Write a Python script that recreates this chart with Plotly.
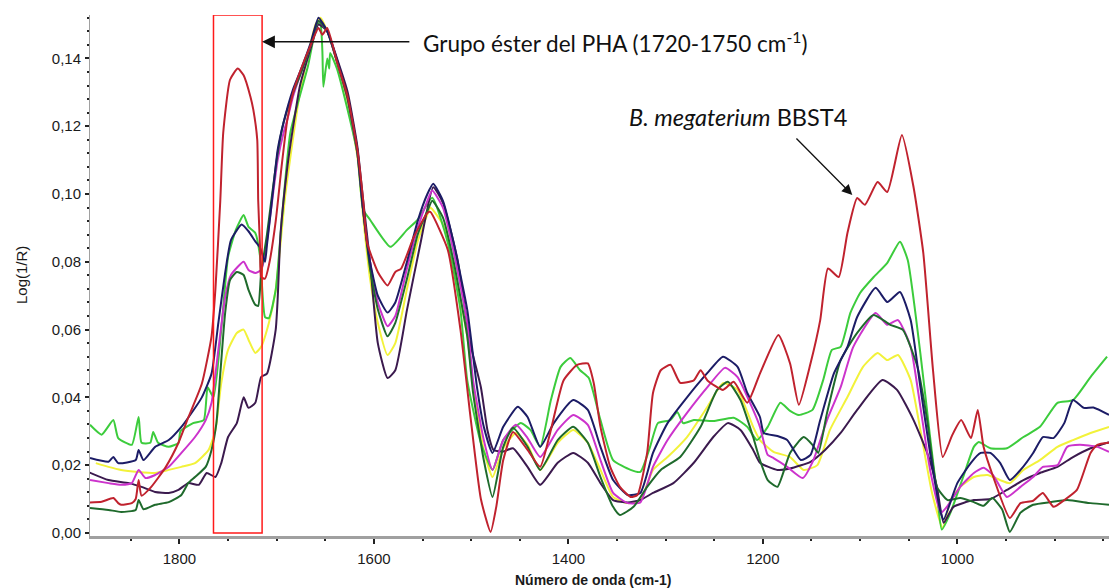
import plotly.graph_objects as go

# FTIR reflectance spectra, Log(1/R) versus wavenumber (cm-1)

red_w = [1892, 1880, 1868, 1863, 1860, 1849, 1845, 1842, 1839, 1829, 1814, 1801, 1791, 1777, 1767,
         1763, 1758, 1755, 1748, 1740, 1734, 1727, 1724, 1720, 1719, 1717, 1716, 1712, 1708, 1701,
         1695, 1689, 1683, 1676, 1665, 1657, 1653, 1648, 1638, 1627, 1617, 1611, 1607, 1596, 1586,
         1578, 1572, 1559, 1545, 1542, 1524, 1511, 1501, 1490, 1480, 1474, 1467, 1457, 1442, 1429,
         1418, 1405, 1391, 1380, 1374, 1367, 1357, 1347, 1336, 1329, 1319, 1313, 1305, 1295, 1285,
         1271, 1264, 1257, 1241, 1230, 1216, 1203, 1184, 1172, 1163, 1151, 1141, 1133, 1122, 1113,
         1103, 1095, 1082, 1072, 1057, 1045, 1035, 1025, 1015, 1005, 996, 986, 979, 973, 963,
         946, 935, 922, 912, 901, 890, 877, 863, 856, 844]
red_v = [0.0090, 0.0092, 0.0103, 0.0088, 0.0083, 0.0088, 0.0100, 0.0156, 0.0110, 0.0136, 0.0195, 0.0266, 0.0340, 0.0440, 0.0580,
         0.0720, 0.0980, 0.1180, 0.1337, 0.1370, 0.1350, 0.1287, 0.1248, 0.1160, 0.0980, 0.0835, 0.0755, 0.0750, 0.0790, 0.0920,
         0.1080, 0.1220, 0.1300, 0.1360, 0.1440, 0.1490, 0.1470, 0.1490, 0.1390, 0.1287, 0.1130, 0.0980, 0.0856, 0.0770, 0.0730,
         0.0770, 0.0780, 0.0873, 0.0944, 0.0947, 0.0835, 0.0600, 0.0350, 0.0100, 0.0003, 0.0080, 0.0215, 0.0298, 0.0245, 0.0195,
         0.0304, 0.0450, 0.0496, 0.0500, 0.0443, 0.0313, 0.0195, 0.0136, 0.0106, 0.0112, 0.0236, 0.0413, 0.0480, 0.0496, 0.0443,
         0.0450, 0.0480, 0.0450, 0.0422, 0.0446, 0.0384, 0.0470, 0.0584, 0.0500, 0.0378, 0.0500, 0.0628, 0.0780, 0.0755, 0.0885,
         0.0988, 0.0968, 0.1035, 0.1006, 0.1174, 0.1020, 0.0826, 0.0480, 0.0224, 0.0290, 0.0333, 0.0280, 0.0363, 0.0254, 0.0165,
         0.0044, 0.0088, 0.0095, 0.0118, 0.0077, 0.0097, 0.0127, 0.0236, 0.0260, 0.0266]

lime_w = [1892, 1880, 1868, 1863, 1849, 1842, 1839, 1830, 1827, 1822, 1811, 1801, 1799, 1786, 1775,
          1771, 1765, 1757, 1750, 1742, 1734, 1729, 1722, 1717, 1712, 1708, 1701, 1695, 1686, 1668,
          1658, 1655, 1653, 1652, 1648, 1646, 1645, 1638, 1627, 1617, 1611, 1604, 1583, 1566, 1555,
          1540, 1524, 1511, 1504, 1490, 1478, 1467, 1449, 1439, 1429, 1418, 1408, 1398, 1388, 1379,
          1367, 1354, 1336, 1326, 1316, 1308, 1295, 1288, 1282, 1271, 1251, 1230, 1216, 1206, 1195,
          1182, 1172, 1163, 1149, 1138, 1129, 1120, 1110, 1100, 1086, 1072, 1059, 1051, 1038, 1028,
          1021, 1016, 1007, 994, 983, 978, 966, 949, 932, 915, 897, 881, 863, 846]
lime_v = [0.0319, 0.0290, 0.0333, 0.0280, 0.0260, 0.0342, 0.0266, 0.0266, 0.0298, 0.0266, 0.0254, 0.0266, 0.0300, 0.0324, 0.0333,
          0.0430, 0.0400, 0.0600, 0.0814, 0.0894, 0.0938, 0.0903, 0.0885, 0.0814, 0.0637, 0.0634, 0.0717, 0.0915, 0.1180, 0.1375,
          0.1504, 0.1500, 0.1420, 0.1316, 0.1400, 0.1370, 0.1416, 0.1370, 0.1248, 0.1120, 0.0953, 0.0924, 0.0844, 0.0894, 0.0924,
          0.0989, 0.0856, 0.0658, 0.0450, 0.0266, 0.0186, 0.0274, 0.0324, 0.0304, 0.0254, 0.0392, 0.0490, 0.0516, 0.0480, 0.0457,
          0.0333, 0.0215, 0.0186, 0.0180, 0.0254, 0.0324, 0.0333, 0.0357, 0.0324, 0.0333, 0.0330, 0.0340, 0.0313, 0.0274, 0.0313,
          0.0384, 0.0360, 0.0348, 0.0363, 0.0451, 0.0540, 0.0549, 0.0649, 0.0708, 0.0755, 0.0797, 0.0859, 0.0805, 0.0530, 0.0283,
          0.0118, 0.0010, 0.0060, 0.0165, 0.0254, 0.0268, 0.0250, 0.0250, 0.0283, 0.0313, 0.0384, 0.0392, 0.0460, 0.0520]

navy_w = [1892, 1873, 1868, 1863, 1845, 1842, 1837, 1825, 1811, 1798, 1791, 1777, 1767, 1760, 1753,
          1747, 1736, 1729, 1722, 1717, 1712, 1710, 1706, 1699, 1693, 1683, 1676, 1665, 1657, 1648,
          1638, 1627, 1617, 1611, 1604, 1596, 1586, 1578, 1566, 1555, 1545, 1539, 1529, 1518, 1504,
          1494, 1487, 1478, 1467, 1452, 1442, 1429, 1415, 1395, 1380, 1367, 1354, 1339, 1326, 1313,
          1298, 1278, 1257, 1241, 1226, 1216, 1203, 1199, 1185, 1175, 1161, 1151, 1141, 1127, 1113,
          1103, 1084, 1072, 1059, 1048, 1038, 1028, 1017, 1014, 1000, 986, 976, 966, 956, 946,
          935, 922, 912, 901, 890, 881, 870, 860, 844]
navy_v = [0.0221, 0.0210, 0.0224, 0.0206, 0.0215, 0.0245, 0.0215, 0.0254, 0.0274, 0.0313, 0.0340, 0.0400, 0.0470, 0.0620, 0.0767,
          0.0864, 0.0910, 0.0890, 0.0860, 0.0841, 0.0800, 0.0850, 0.0950, 0.1130, 0.1210, 0.1310, 0.1360, 0.1446, 0.1520, 0.1480,
          0.1396, 0.1287, 0.1130, 0.0950, 0.0800, 0.0700, 0.0650, 0.0680, 0.0800, 0.0920, 0.1000, 0.1030, 0.0980, 0.0856, 0.0658,
          0.0430, 0.0313, 0.0236, 0.0313, 0.0372, 0.0342, 0.0254, 0.0324, 0.0392, 0.0363, 0.0254, 0.0156, 0.0112, 0.0118, 0.0236,
          0.0324, 0.0400, 0.0472, 0.0520, 0.0490, 0.0413, 0.0342, 0.0295, 0.0286, 0.0274, 0.0215, 0.0230, 0.0333, 0.0470, 0.0549,
          0.0637, 0.0723, 0.0681, 0.0711, 0.0628, 0.0430, 0.0236, 0.0059, 0.0040, 0.0147, 0.0207, 0.0236, 0.0236, 0.0207, 0.0156,
          0.0186, 0.0236, 0.0283, 0.0280, 0.0324, 0.0392, 0.0369, 0.0370, 0.0348]

dkgreen_w = [1892, 1873, 1860, 1845, 1842, 1837, 1825, 1811, 1798, 1791, 1784, 1773, 1767, 1762, 1758,
             1753, 1748, 1741, 1734, 1729, 1722, 1719, 1716, 1710, 1706, 1699, 1693, 1683, 1676, 1665,
             1657, 1648, 1638, 1627, 1617, 1611, 1604, 1596, 1586, 1578, 1566, 1555, 1545, 1540, 1529,
             1518, 1504, 1498, 1487, 1478, 1467, 1457, 1442, 1429, 1411, 1395, 1380, 1367, 1354, 1347,
             1333, 1319, 1305, 1285, 1264, 1247, 1236, 1223, 1210, 1203, 1195, 1185, 1172, 1158, 1149,
             1143, 1134, 1120, 1103, 1086, 1069, 1056, 1041, 1031, 1021, 1010, 997, 983, 973, 964,
             954, 946, 935, 922, 904, 887, 863, 844]
dkgreen_v = [0.0074, 0.0068, 0.0062, 0.0068, 0.0097, 0.0070, 0.0083, 0.0091, 0.0112, 0.0147, 0.0165, 0.0195, 0.0245, 0.0324, 0.0470,
             0.0649, 0.0746, 0.0770, 0.0761, 0.0717, 0.0673, 0.0670, 0.0767, 0.0880, 0.0970, 0.1120, 0.1210, 0.1300, 0.1350, 0.1440,
             0.1510, 0.1480, 0.1390, 0.1280, 0.1120, 0.0950, 0.0780, 0.0660, 0.0580, 0.0620, 0.0750, 0.0880, 0.0950, 0.0980, 0.0930,
             0.0800, 0.0580, 0.0413, 0.0215, 0.0106, 0.0254, 0.0310, 0.0254, 0.0186, 0.0274, 0.0313, 0.0266, 0.0165, 0.0077, 0.0053,
             0.0077, 0.0136, 0.0186, 0.0224, 0.0313, 0.0422, 0.0446, 0.0392, 0.0283, 0.0215, 0.0156, 0.0136, 0.0236, 0.0283, 0.0260,
             0.0236, 0.0354, 0.0510, 0.0590, 0.0643, 0.0614, 0.0599, 0.0490, 0.0333, 0.0136, 0.0097, 0.0103, 0.0091, 0.0080, 0.0103,
             0.0070, 0.0003, 0.0060, 0.0083, 0.0091, 0.0097, 0.0088, 0.0083]

magenta_w = [1892, 1873, 1860, 1849, 1842, 1835, 1825, 1811, 1798, 1784, 1773, 1767, 1760, 1753, 1747,
             1734, 1729, 1722, 1716, 1712, 1706, 1699, 1693, 1689, 1683, 1676, 1665, 1657, 1648, 1638,
             1627, 1617, 1611, 1604, 1596, 1586, 1578, 1566, 1555, 1545, 1540, 1529, 1518, 1504, 1498,
             1487, 1478, 1467, 1454, 1442, 1429, 1411, 1395, 1380, 1367, 1354, 1339, 1326, 1313, 1298,
             1278, 1257, 1239, 1226, 1210, 1203, 1195, 1189, 1175, 1159, 1148, 1134, 1120, 1107, 1084,
             1072, 1061, 1048, 1038, 1028, 1017, 1010, 997, 983, 973, 963, 949, 935, 922, 912,
             897, 887, 874, 856, 844]
magenta_v = [0.0156, 0.0147, 0.0142, 0.0147, 0.0186, 0.0162, 0.0171, 0.0195, 0.0236, 0.0283, 0.0333, 0.0384, 0.0540, 0.0696, 0.0761,
             0.0800, 0.0776, 0.0767, 0.0776, 0.0820, 0.0950, 0.1100, 0.1180, 0.1220, 0.1290, 0.1350, 0.1440, 0.1510, 0.1480, 0.1390,
             0.1280, 0.1120, 0.0950, 0.0800, 0.0680, 0.0610, 0.0640, 0.0780, 0.0900, 0.0980, 0.1010, 0.0960, 0.0830, 0.0620, 0.0450,
             0.0274, 0.0186, 0.0274, 0.0319, 0.0280, 0.0224, 0.0304, 0.0348, 0.0319, 0.0215, 0.0118, 0.0088, 0.0090, 0.0195, 0.0274,
             0.0354, 0.0430, 0.0487, 0.0460, 0.0363, 0.0313, 0.0230, 0.0221, 0.0195, 0.0162, 0.0215, 0.0333, 0.0430, 0.0549, 0.0649,
             0.0614, 0.0628, 0.0549, 0.0372, 0.0186, 0.0059, 0.0080, 0.0136, 0.0177, 0.0192, 0.0170, 0.0106, 0.0136, 0.0165, 0.0195,
             0.0200, 0.0254, 0.0260, 0.0254, 0.0239]

yellow_w = [1886, 1873, 1860, 1842, 1825, 1811, 1798, 1784, 1770, 1763, 1757, 1750, 1741, 1734, 1729,
            1722, 1716, 1708, 1701, 1691, 1676, 1660, 1655, 1648, 1638, 1627, 1617, 1611, 1604, 1596,
            1586, 1578, 1566, 1555, 1545, 1542, 1529, 1518, 1504, 1498, 1487, 1478, 1467, 1454, 1442,
            1429, 1411, 1395, 1380, 1367, 1354, 1339, 1326, 1313, 1298, 1278, 1257, 1241, 1226, 1210,
            1203, 1189, 1172, 1158, 1144, 1131, 1113, 1097, 1082, 1072, 1061, 1048, 1038, 1026, 1015,
            1007, 997, 983, 969, 956, 946, 932, 915, 897, 881, 863, 844]
yellow_v = [0.0206, 0.0195, 0.0186, 0.0180, 0.0177, 0.0186, 0.0195, 0.0206, 0.0245, 0.0304, 0.0442, 0.0540, 0.0590, 0.0600, 0.0570,
            0.0531, 0.0549, 0.0620, 0.0717, 0.1000, 0.1300, 0.1500, 0.1520, 0.1480, 0.1390, 0.1270, 0.1110, 0.0930, 0.0750, 0.0620,
            0.0525, 0.0560, 0.0720, 0.0860, 0.0940, 0.0960, 0.0910, 0.0790, 0.0580, 0.0430, 0.0245, 0.0165, 0.0250, 0.0295, 0.0260,
            0.0186, 0.0266, 0.0304, 0.0266, 0.0186, 0.0106, 0.0088, 0.0097, 0.0186, 0.0224, 0.0283, 0.0372, 0.0442, 0.0422, 0.0313,
            0.0274, 0.0239, 0.0224, 0.0186, 0.0200, 0.0304, 0.0401, 0.0490, 0.0531, 0.0510, 0.0525, 0.0451, 0.0304, 0.0118, 0.0015,
            0.0097, 0.0136, 0.0165, 0.0171, 0.0156, 0.0147, 0.0186, 0.0215, 0.0254, 0.0274, 0.0295, 0.0313]

purple_w = [1894, 1873, 1852, 1839, 1825, 1811, 1801, 1791, 1780, 1772, 1763, 1757, 1750, 1741, 1734,
            1729, 1722, 1716, 1710, 1701, 1699, 1696, 1689, 1683, 1676, 1665, 1657, 1648, 1638, 1627,
            1617, 1611, 1604, 1596, 1586, 1578, 1566, 1552, 1539, 1529, 1514, 1501, 1490, 1483, 1477,
            1467, 1457, 1442, 1429, 1411, 1395, 1380, 1367, 1354, 1339, 1326, 1313, 1292, 1271, 1251,
            1236, 1223, 1210, 1203, 1185, 1172, 1151, 1136, 1120, 1103, 1077, 1062, 1045, 1031, 1021,
            1014, 1004, 983, 966, 949, 932, 915, 897, 881, 863, 844]
purple_v = [0.0180, 0.0156, 0.0147, 0.0136, 0.0121, 0.0118, 0.0127, 0.0147, 0.0142, 0.0177, 0.0165, 0.0206, 0.0283, 0.0324, 0.0400,
            0.0369, 0.0384, 0.0460, 0.0470, 0.0600, 0.0690, 0.0885, 0.1080, 0.1200, 0.1320, 0.1430, 0.1500, 0.1480, 0.1400, 0.1300,
            0.1140, 0.0980, 0.0800, 0.0560, 0.0457, 0.0480, 0.0658, 0.0856, 0.1020, 0.0974, 0.0806, 0.0560, 0.0430, 0.0300, 0.0245,
            0.0240, 0.0250, 0.0195, 0.0142, 0.0207, 0.0236, 0.0207, 0.0147, 0.0097, 0.0090, 0.0097, 0.0118, 0.0147, 0.0207, 0.0283,
            0.0324, 0.0304, 0.0245, 0.0207, 0.0186, 0.0190, 0.0210, 0.0245, 0.0295, 0.0363, 0.0451, 0.0422, 0.0333, 0.0236, 0.0136,
            0.0030, 0.0077, 0.0097, 0.0100, 0.0127, 0.0156, 0.0177, 0.0195, 0.0224, 0.0250, 0.0268]

series = [
    (yellow_w, yellow_v, "#f2f23a"),
    (lime_w, lime_v, "#3ccc3c"),
    (purple_w, purple_v, "#3b1a4e"),
    (magenta_w, magenta_v, "#cc33cc"),
    (dkgreen_w, dkgreen_v, "#1f6a2c"),
    (navy_w, navy_v, "#1c1c66"),
    (red_w, red_v, "#c0222e"),
]

fig = go.Figure()
for w, v, c in series:
    fig.add_trace(go.Scatter(x=w, y=v, mode="lines",
                             line=dict(color=c, width=2, shape="spline", smoothing=0.5),
                             showlegend=False, hoverinfo="skip"))

tick_font = dict(family="Liberation Sans, Arial", size=15, color="#1a1a1a")

# plotting area in pixels
L, R, T, B = 90, 1109, 15, 536
W, H = 1109, 588

fig.update_layout(
    width=W, height=H,
    margin=dict(l=L, r=W - R, t=T, b=H - B),
    paper_bgcolor="white", plot_bgcolor="white",
    separators=", ",
    xaxis=dict(range=[1892, 844], showgrid=False, zeroline=False,
               showline=True, linecolor="#a0a0a0", linewidth=3,
               tickvals=[1800, 1600, 1400, 1200, 1000], ticks="outside", ticklen=5,
               tickcolor="#222", tickwidth=1.5, tickfont=tick_font, ticklabelstandoff=2,
               minor=dict(dtick=50, ticks="outside", ticklen=2, tickcolor="#222", tickwidth=2)),
    yaxis=dict(range=[-0.0009, 0.1528], showgrid=False, zeroline=False,
               showline=True, linecolor="#a0a0a0", linewidth=1,
               tickvals=[0, 0.02, 0.04, 0.06, 0.08, 0.10, 0.12, 0.14], tickformat=".2f",
               ticks="outside", ticklen=4, tickcolor="#222", tickwidth=1.5,
               tickfont=tick_font, ticklabelstandoff=1,
               minor=dict(dtick=0.004, ticks="outside", ticklen=2, tickcolor="#222", tickwidth=2)),
)

# Ester band region of PHA
fig.add_shape(type="rect", x0=1765, x1=1715, y0=0, y1=0.1528, xref="x", yref="y",
              line=dict(color="#ff1a1a", width=1.5), fillcolor="rgba(0,0,0,0)")

fig.add_annotation(x=1715, y=0.1449, ax=1562, ay=0.1449, xref="x", yref="y", axref="x", ayref="y",
                   text="", showarrow=True, arrowhead=2, arrowsize=1.6, arrowwidth=1.6, arrowcolor="#111")
fig.add_annotation(x=1552, y=0.1449, xref="x", yref="y", xanchor="left", yanchor="middle",
                   text="Grupo éster del PHA (1720-1750 cm<sup>-1</sup>)", showarrow=False,
                   font=dict(family="Lato, Open Sans, sans-serif", size=22.5, color="#111"))

fig.add_annotation(x=1108, y=0.0997, ax=1167, ay=0.1168, xref="x", yref="y", axref="x", ayref="y",
                   text="", showarrow=True, arrowhead=2, arrowsize=1.6, arrowwidth=1.3, arrowcolor="#111")
fig.add_annotation(x=1340, y=0.1227, xref="x", yref="y", xanchor="left", yanchor="middle",
                   text="<i>B. megaterium</i> BBST4", showarrow=False,
                   font=dict(family="Lato, Open Sans, sans-serif", size=23.5, color="#111"))

fig.add_annotation(x=(593 - L) / (R - L), y=(B - 580) / (B - T), xref="paper", yref="paper",
                   xanchor="center", yanchor="middle",
                   text="<b>Número de onda (cm-1)</b>", showarrow=False,
                   font=dict(family="Liberation Sans, Arial", size=14, color="#1a1a1a"))
fig.add_annotation(x=(21 - L) / (R - L), y=(B - 275) / (B - T), xref="paper", yref="paper",
                   xanchor="center", yanchor="middle",
                   text="Log(1/R)", textangle=-90, showarrow=False,
                   font=dict(family="Liberation Sans, Arial", size=15, color="#1a1a1a"))

fig.write_html("out.html")
